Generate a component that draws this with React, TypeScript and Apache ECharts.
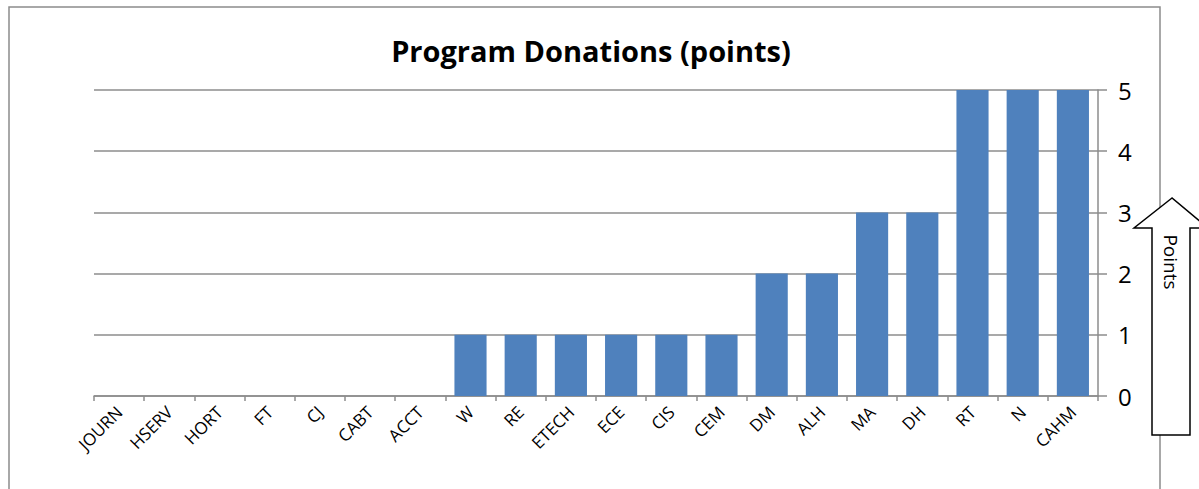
import React, { useEffect, useRef } from "react";
import * as echarts from "echarts";

const categories = ["JOURN", "HSERV", "HORT", "FT", "CJ", "CABT", "ACCT", "W", "RE", "ETECH", "ECE", "CIS", "CEM", "DM", "ALH", "MA", "DH", "RT", "N", "CAHM"];
const points = [0, 0, 0, 0, 0, 0, 0, 1, 1, 1, 1, 1, 1, 2, 2, 3, 3, 5, 5, 5];
const yTicks = [0, 1, 2, 3, 4, 5];

const FONT = "'Open Sans', 'Noto Sans', sans-serif";

export default function App() {
  const ref = useRef<HTMLDivElement>(null);
  useEffect(() => {
    if (!ref.current) return;
    const chart = echarts.init(ref.current, null, { renderer: "svg" });
    chart.setOption({
      animation: false,
      backgroundColor: "#ffffff",
      title: {
        text: "Program Donations (points)",
        left: 586,
        top: 31,
        textAlign: "center",
        textStyle: { fontFamily: FONT, fontSize: 29, fontWeight: "bold", color: "#000" },
      },
      grid: { left: 94, right: 101, top: 90, bottom: 93, containLabel: false },
      xAxis: {
        type: "category",
        data: categories,
        axisLine: { show: true, lineStyle: { color: "#8c8c8c", width: 1.5 } },
        axisTick: { show: true, length: 5, interval: 0, lineStyle: { color: "#8c8c8c", width: 1.5 } },
        axisLabel: { interval: 0, rotate: 45, fontFamily: FONT, fontSize: 17, color: "#000", margin: 13 },
      },
      yAxis: {
        type: "value",
        position: "right",
        min: yTicks[0],
        max: yTicks[yTicks.length - 1],
        interval: 1,
        axisLine: { show: true, lineStyle: { color: "#8c8c8c", width: 1.5 } },
        axisTick: { show: true, length: 9, lineStyle: { color: "#8c8c8c", width: 1.5 } },
        axisLabel: { fontFamily: FONT, fontSize: 24, color: "#000", margin: 20 },
        splitLine: { show: true, lineStyle: { color: "#8c8c8c", width: 1.5 } },
      },
      series: [
        {
          type: "bar",
          data: points,
          barCategoryGap: "36%",
          itemStyle: { color: "#4f81bd" },
        },
      ],
      graphic: [
        {
          type: "rect",
          shape: { x: 9, y: 7, width: 1151, height: 520 },
          style: { fill: "none", stroke: "#8c8c8c", lineWidth: 1.5 },
          silent: true,
        },
        {
          type: "polygon",
          shape: {
            points: [
              [1172, 198],
              [1134, 228],
              [1152, 228],
              [1152, 435],
              [1190, 435],
              [1190, 228],
              [1208, 228],
            ],
          },
          style: { fill: "#fff", stroke: "#000", lineWidth: 1.5 },
          z: 10,
        },
        {
          type: "text",
          x: 1171,
          y: 262,
          rotation: -Math.PI / 2,
          style: {
            text: "Points",
            fontFamily: FONT,
            fontSize: 19,
            fill: "#000",
            align: "center",
            verticalAlign: "middle",
          },
          z: 11,
        },
      ],
    });
    return () => chart.dispose();
  }, []);
  return (
    <div
      ref={ref}
      style={{ position: "absolute", left: 0, top: 0, width: 1199, height: 489 }}
    />
  );
}
